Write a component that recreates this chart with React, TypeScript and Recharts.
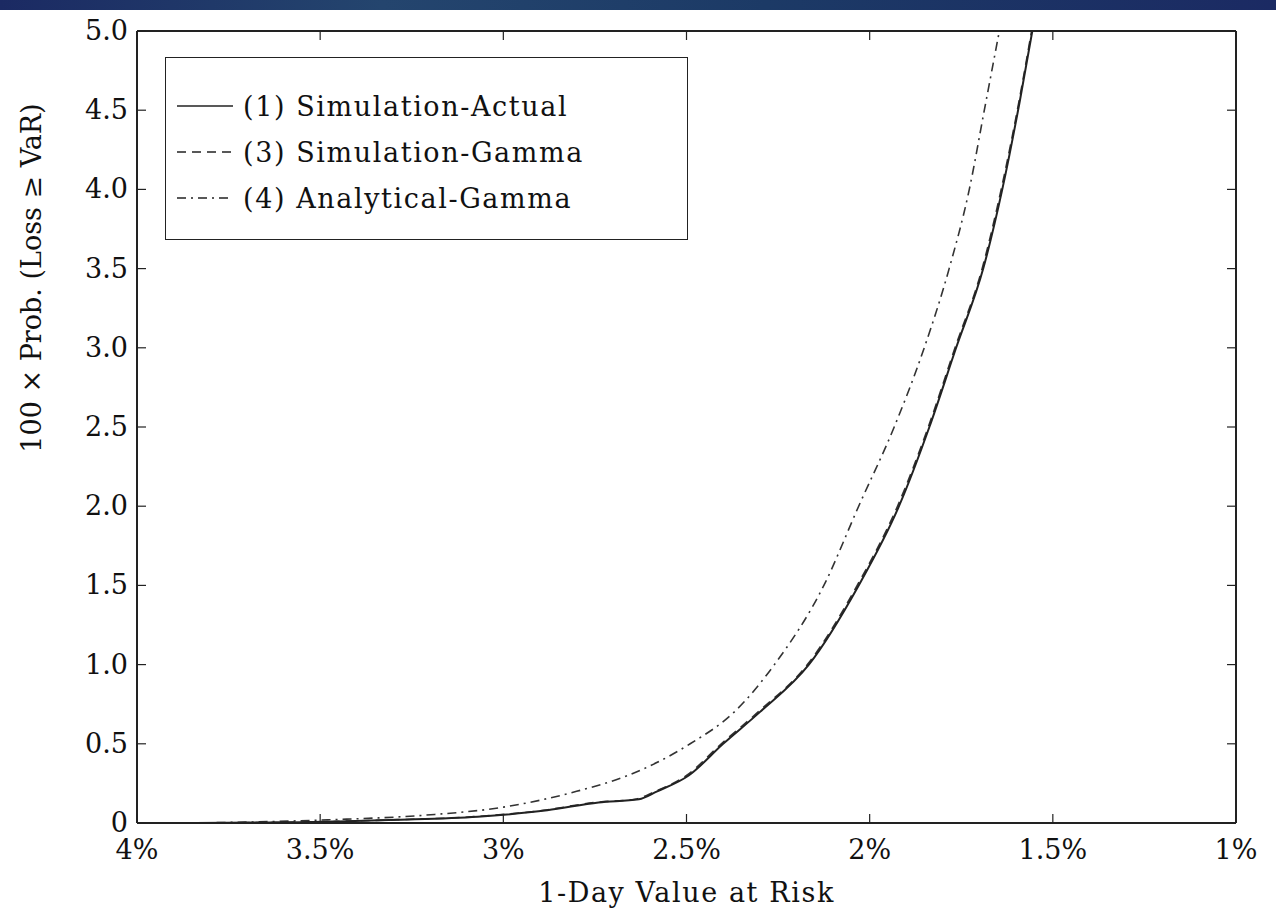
import { LineChart, Line, XAxis, YAxis } from "recharts";

// 1-day VaR (%) vs 100 x Prob(Loss >= VaR)
const actualVar = [3.84, 3.45, 3.29, 3.07, 2.88, 2.74, 2.63, 2.58, 2.494, 2.4, 2.3, 2.166, 2.03, 1.92, 1.837, 1.764, 1.69, 1.638, 1.59, 1.556];
const actualProb = [0, 0.01, 0.02, 0.04, 0.08, 0.13, 0.15, 0.2, 0.3, 0.5, 0.7, 1.0, 1.5, 2.0, 2.5, 3.0, 3.5, 4.0, 4.56, 5.0];

const simGammaVar = [3.84, 3.46, 3.3, 3.08, 2.89, 2.75, 2.64, 2.585, 2.5, 2.405, 2.305, 2.17, 2.034, 1.924, 1.84, 1.767, 1.693, 1.641, 1.592, 1.558];
const simGammaProb = [0, 0.01, 0.02, 0.04, 0.08, 0.13, 0.15, 0.2, 0.3, 0.5, 0.7, 1.0, 1.5, 2.0, 2.5, 3.0, 3.5, 4.0, 4.56, 5.0];

const anaVar = [3.84, 3.48, 3.21, 3.0, 2.8, 2.66, 2.49, 2.37, 2.26, 2.125, 2.03, 1.933, 1.851, 1.783, 1.728, 1.687, 1.646];
const anaProb = [0, 0.02, 0.05, 0.1, 0.2, 0.3, 0.5, 0.7, 1.0, 1.5, 2.0, 2.5, 3.0, 3.5, 4.0, 4.5, 5.0];

const xTicks = [4, 3.5, 3, 2.5, 2, 1.5, 1];
const yTicks = [0, 0.5, 1, 1.5, 2, 2.5, 3, 3.5, 4, 4.5, 5];

const seriesNames = ["(1) Simulation-Actual", "(3) Simulation-Gamma", "(4) Analytical-Gamma"];
const dashes = ["", "9 6", "9 5 2 5"];

const toPoints = (xs: number[], ys: number[]) => xs.map((v, i) => ({ v, p: ys[i] }));

const FONT = "'DejaVu Serif', serif";
const TICK_LEN = 9;

const BottomTick = (props: any) => {
  const { x, y, payload } = props;
  return (
    <g>
      <line x1={x} x2={x} y1={y} y2={y - TICK_LEN} stroke="#222" strokeWidth={1.2} />
      <text x={x} y={y + 36} textAnchor="middle" fontFamily={FONT} fontSize={27} fill="#111">
        {payload.value}%
      </text>
    </g>
  );
};

const TopTick = (props: any) => {
  const { x, y } = props;
  return <line x1={x} x2={x} y1={y} y2={y + TICK_LEN} stroke="#222" strokeWidth={1.2} />;
};

const LeftTick = (props: any) => {
  const { x, y, payload } = props;
  const label = payload.value === 0 ? "0" : payload.value.toFixed(1);
  return (
    <g>
      <line x1={x} x2={x + TICK_LEN} y1={y} y2={y} stroke="#222" strokeWidth={1.2} />
      <text x={x - 9} y={y + 9} textAnchor="end" fontFamily={FONT} fontSize={27} fill="#111">
        {label}
      </text>
    </g>
  );
};

const RightTick = (props: any) => {
  const { x, y } = props;
  return <line x1={x} x2={x - TICK_LEN} y1={y} y2={y} stroke="#222" strokeWidth={1.2} />;
};

const LegendBox = () => (
  <div
    style={{
      position: "absolute",
      left: 165,
      top: 57,
      width: 523,
      height: 183,
      border: "1.5px solid #222",
      background: "#fff",
      boxSizing: "border-box",
      paddingTop: 25,
      fontFamily: FONT,
      fontSize: 27,
      letterSpacing: 1.6,
      color: "#111",
    }}
  >
    {seriesNames.map((name, i) => (
      <div key={name} style={{ display: "flex", alignItems: "center", height: 46 }}>
        <svg width={68} height={20} style={{ marginLeft: 9 }}>
          <line x1={2} x2={58} y1={10} y2={10} stroke="#222" strokeWidth={1.4} strokeDasharray={dashes[i]} />
        </svg>
        <span>{name}</span>
      </div>
    ))}
  </div>
);

const App = () => {
  return (
    <div style={{ position: "relative", width: 1276, height: 911, background: "#fff" }}>
      <style>{"body{margin:0}"}</style>
      <div
        style={{
          position: "absolute",
          top: 0,
          left: 0,
          width: 1276,
          height: 10,
          background: "linear-gradient(90deg, #1b2a63, #24456e 30%, #1c3a66 60%, #1b2a63)",
        }}
      />
      <LineChart width={1276} height={911} margin={{ top: 30, right: 39, bottom: 28, left: 37 }}>
        <XAxis
          xAxisId="b"
          type="number"
          dataKey="v"
          domain={[1, 4]}
          reversed
          ticks={xTicks}
          interval={0}
          allowDataOverflow
          height={60}
          tickSize={0}
          tickMargin={0}
          tick={BottomTick}
          axisLine={{ stroke: "#222", strokeWidth: 2 }}
          label={{
            content: (p: any) => (
              <text
                x={p.viewBox.x + p.viewBox.width / 2}
                y={902}
                textAnchor="middle"
                fontFamily={FONT}
                fontSize={27}
                letterSpacing={1.6}
                fill="#111"
              >
                1-Day Value at Risk
              </text>
            ),
          }}
        />
        <XAxis
          xAxisId="t"
          orientation="top"
          type="number"
          dataKey="v"
          domain={[1, 4]}
          reversed
          ticks={xTicks}
          interval={0}
          allowDataOverflow
          height={1}
          tickSize={0}
          tickMargin={0}
          tick={TopTick}
          axisLine={{ stroke: "#222", strokeWidth: 2 }}
        />
        <YAxis
          yAxisId="l"
          type="number"
          dataKey="p"
          domain={[0, 5]}
          ticks={yTicks}
          interval={0}
          allowDataOverflow
          width={100}
          tickSize={0}
          tickMargin={0}
          tick={LeftTick}
          axisLine={{ stroke: "#222", strokeWidth: 2 }}
          label={{
            content: () => (
              <text
                transform="translate(41,278) rotate(-90)"
                textAnchor="middle"
                fontFamily={FONT}
                fontSize={27}
                fill="#111"
              >
                100 × Prob. (Loss ≥ VaR)
              </text>
            ),
          }}
        />
        <YAxis
          yAxisId="r"
          orientation="right"
          type="number"
          domain={[0, 5]}
          ticks={yTicks}
          interval={0}
          allowDataOverflow
          width={1}
          tickSize={0}
          tickMargin={0}
          tick={RightTick}
          axisLine={{ stroke: "#222", strokeWidth: 2 }}
        />
        <Line
          xAxisId="b"
          yAxisId="l"
          data={toPoints(simGammaVar, simGammaProb)}
          dataKey="p"
          name={seriesNames[1]}
          type="monotone"
          stroke="#333"
          strokeWidth={1.6}
          strokeDasharray={dashes[1]}
          dot={false}
          isAnimationActive={false}
        />
        <Line
          xAxisId="b"
          yAxisId="l"
          data={toPoints(anaVar, anaProb)}
          dataKey="p"
          name={seriesNames[2]}
          type="monotone"
          stroke="#333"
          strokeWidth={1.6}
          strokeDasharray={dashes[2]}
          dot={false}
          isAnimationActive={false}
        />
        <Line
          xAxisId="b"
          yAxisId="l"
          data={toPoints(actualVar, actualProb)}
          dataKey="p"
          name={seriesNames[0]}
          type="monotone"
          stroke="#222"
          strokeWidth={2}
          dot={false}
          isAnimationActive={false}
        />
      </LineChart>
      <LegendBox />
    </div>
  );
};

export default App;
